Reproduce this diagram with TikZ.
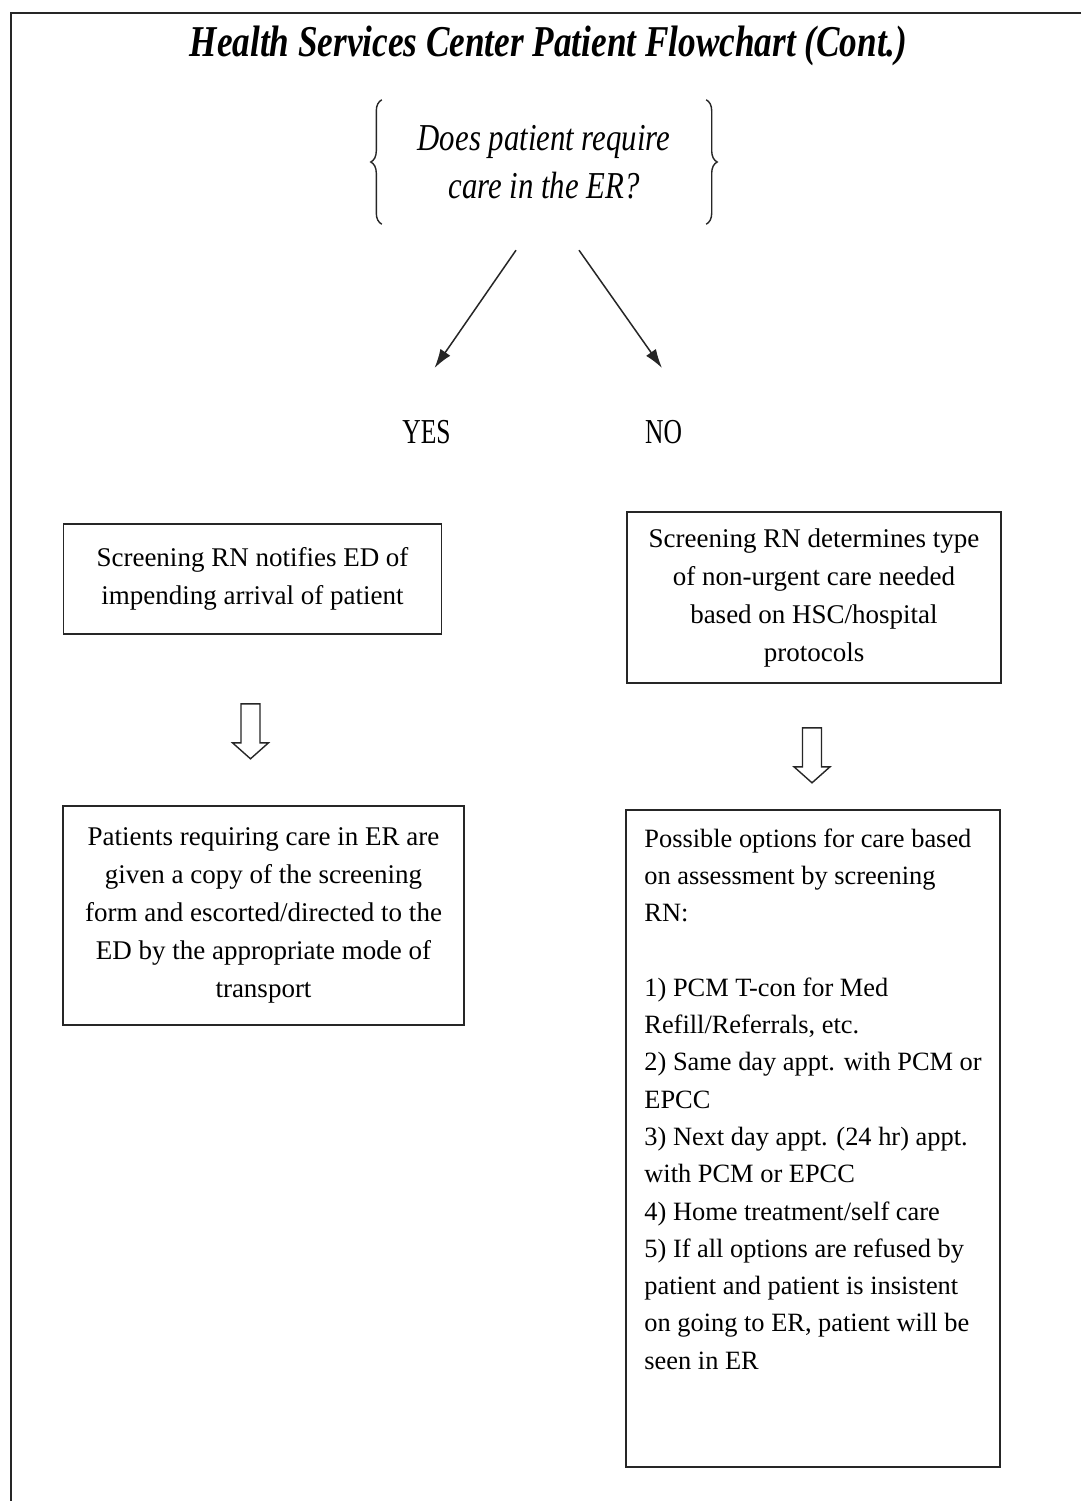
\documentclass[tikz,border=0pt]{standalone}
\usepackage{fontspec}
\usepackage{graphicx}
\setmainfont{Liberation Serif}
\usetikzlibrary{arrows.meta,calc,decorations.pathreplacing}
\newcommand\hollowarrow[1]{\draw[hollow,shift={#1}] (-9.5,0) -- (9.5,0) -- (9.5,39) -- (18,39) -- (0,55) -- (-18,39) -- (-9.5,39) -- cycle;}
\begin{document}
\begin{tikzpicture}[x=1pt,y=-1pt,
  box/.style={draw=black!85, line width=1.6pt, inner sep=0pt, align=center,
    font=\fontsize{27}{38}\selectfont, text=black},
  arr/.style={draw=black!85, line width=1.5pt, -{Latex[length=19pt,width=12pt]}},
  hollow/.style={draw=black!85, line width=1.4pt, fill=white, line join=miter},
  bracestyle/.style={draw=black!85, line width=1.4pt, decorate,
    decoration={brace, amplitude=11pt}},
  yn/.style={anchor=base, inner sep=0pt, font=\fontsize{35}{35}\selectfont, text=black},
]
\useasboundingbox (0,0) rectangle (1081,1501);
\fill[white] (0,0) rectangle (1081,1501);
\draw[line width=2pt, black!85] (1081,13) -- (11,13) -- (11,1501);

% title
\node[anchor=base, inner sep=0pt, font=\fontsize{44}{44}\selectfont\bfseries\itshape] (title)
  at (548.5,57) {\scalebox{0.8}[1]{Health Services Center Patient Flowchart (Cont.)}};

% question with braces
\node[inner sep=0pt, minimum width=324pt, minimum height=124pt, align=center,
  font=\fontsize{38}{48}\selectfont\itshape] (q) at (544,162)
  {\scalebox{0.81}[1]{Does patient require}\\\scalebox{0.81}[1]{care in the ER?}};
\draw[bracestyle] (q.south west) -- (q.north west);
\draw[bracestyle] (q.north east) -- (q.south east);

% yes / no
\node[yn] (yes) at (426.5,443) {\scalebox{0.73}[1]{YES}};
\node[yn] (no) at (663.5,443) {\scalebox{0.73}[1]{NO}};
\draw[arr] ($(q.south)+(-28,26)$) -- ($(yes.base)+(8,-75)$);
\draw[arr] ($(q.south)+(35,26)$) -- ($(no.base)+(-1.5,-75)$);

% boxes
\node[box, minimum width=378pt, minimum height=110pt] (l1) at (252.5,579)
  {Screening RN notifies ED of\\impending arrival of patient};
\node[box, minimum width=374pt, minimum height=171pt] (r1) at (814,597.5)
  {Screening RN determines type\\of non-urgent care needed\\based on HSC/hospital\\protocols};
\node[box, minimum width=401pt, minimum height=219pt] (l2) at (263.5,915.5)
  {Patients requiring care in ER are\\given a copy of the screening\\form and escorted/directed to the\\ED by the appropriate mode of\\transport};
\node[box, minimum width=374pt, minimum height=657pt] (r2) at (813,1138.5) {};
\node[anchor=north west, inner sep=0pt, align=left, font=\fontsize{26.4}{37.3}\selectfont, text=black]
  (r2t) at ($(r2.north west)+(19,19)$)
  {Possible options for care based\\on assessment by screening\\RN:\\[37.3pt]1) PCM T-con for Med\\Refill/Referrals, etc.\\2) Same day appt. with PCM or\\EPCC\\3) Next day appt. (24 hr) appt.\\with PCM or EPCC\\4) Home treatment/self care\\5) If all options are refused by\\patient and patient is insistent\\on going to ER, patient will be\\seen in ER};

% hollow arrows
\hollowarrow{($(l1.south)+(-2,69)$)}
\hollowarrow{($(r1.south)+(-2,44)$)}
\end{tikzpicture}
\end{document}
